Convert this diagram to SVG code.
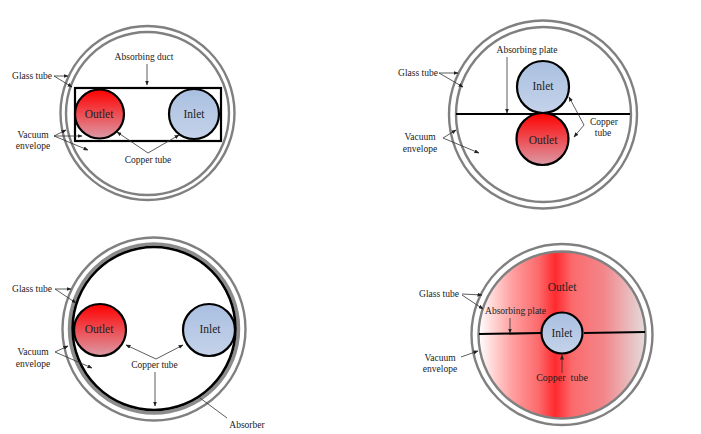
<svg xmlns="http://www.w3.org/2000/svg" width="701" height="434" viewBox="0 0 701 434">
  <style>
    text { font-family: "Liberation Serif", "Times New Roman", serif; font-size: 9.5px; fill: #222; text-anchor: middle; }
    text.tube { font-size: 11.5px; }
    text.wide { font-size: 10px; }
    .glass { fill: #fff; stroke: #808080; stroke-width: 2.4; }
    .wall { fill: none; stroke: #000; stroke-width: 2.2; }
    .hot { fill: url(#hot); stroke: #000; stroke-width: 2.2; }
    .cold { fill: url(#cold); stroke: #000; stroke-width: 2.2; }
    .lead { fill: none; stroke: #333; stroke-width: 0.8; }
    .arrow { fill: none; stroke: #333; stroke-width: 0.8; marker-end: url(#head); }
  </style>
  <defs>
    <linearGradient id="hot" x1="0" y1="0" x2="0" y2="1">
      <stop offset="0" stop-color="#ff0000"/>
      <stop offset="1" stop-color="#dc9aa6"/>
    </linearGradient>
    <linearGradient id="cold" x1="0" y1="0" x2="0" y2="1">
      <stop offset="0" stop-color="#a9bfe0"/>
      <stop offset="1" stop-color="#c5d3ea"/>
    </linearGradient>
    <linearGradient id="sweep" x1="0" y1="0" x2="1" y2="0">
      <stop offset="0" stop-color="#ffffff"/>
      <stop offset="0.2" stop-color="#ffa0a0"/>
      <stop offset="0.36" stop-color="#fc6a6c"/>
      <stop offset="0.46" stop-color="#ff2a2e"/>
      <stop offset="0.56" stop-color="#fc6a6c"/>
      <stop offset="0.75" stop-color="#f2868a"/>
      <stop offset="1" stop-color="#e4dcdc"/>
    </linearGradient>
    <marker id="head" markerUnits="userSpaceOnUse" markerWidth="5" markerHeight="4" refX="4.5" refY="2" orient="auto">
      <path d="M0 0L5 2L0 4Z" fill="#222"/>
    </marker>
  </defs>

  <!-- Rectangular absorbing duct -->
  <g id="duct-collector">
    <circle class="glass" cx="147.5" cy="113" r="87"/>
    <circle class="glass" cx="147.5" cy="113.5" r="81.5"/>
    <rect class="wall" x="75" y="88" width="146" height="53"/>
  </g>
  <g id="duct-outlet">
    <circle class="hot" cx="99.5" cy="114" r="24.5"/>
    <text class="tube" x="99" y="118">Outlet</text>
  </g>
  <g id="duct-inlet">
    <circle class="cold" cx="194" cy="114" r="25"/>
    <text class="tube" x="194" y="118">Inlet</text>
  </g>
  <g id="duct-labels">
    <text x="144" y="60">Absorbing duct</text>
    <text x="32" y="79">Glass tube</text>
    <text x="33" y="138">Vacuum</text>
    <text x="33" y="149">envelope</text>
    <text x="148" y="163">Copper tube</text>
  </g>

  <!-- Flat absorbing plate -->
  <g id="plate-collector">
    <circle class="glass" cx="543" cy="114.5" r="94"/>
    <circle class="glass" cx="543.5" cy="114.5" r="87.5"/>
    <path class="wall" d="M456 114H630"/>
  </g>
  <g id="plate-inlet">
    <circle class="cold" cx="543" cy="87" r="26"/>
    <text class="tube" x="543" y="90">Inlet</text>
  </g>
  <g id="plate-outlet">
    <circle class="hot" cx="542.5" cy="139" r="26"/>
    <text class="tube" x="543" y="144">Outlet</text>
  </g>
  <g id="plate-labels">
    <text x="527" y="53">Absorbing plate</text>
    <text x="418" y="76">Glass tube</text>
    <text x="420" y="140">Vacuum</text>
    <text x="420" y="152">envelope</text>
    <text x="604" y="125">Copper</text>
    <text x="603" y="136">tube</text>
  </g>

  <!-- Circular absorber -->
  <g id="ring-collector">
    <circle class="glass" cx="154" cy="329" r="91.5"/>
    <circle cx="154" cy="328.5" r="84.5" fill="none" stroke="#8c8c8c" stroke-width="3.5"/>
    <circle cx="154" cy="328.5" r="81.5" fill="#fff" stroke="#000" stroke-width="2.6"/>
  </g>
  <g id="ring-outlet">
    <circle class="hot" cx="100" cy="330" r="26"/>
    <text class="tube" x="99" y="333">Outlet</text>
  </g>
  <g id="ring-inlet">
    <circle class="cold" cx="209" cy="330" r="26"/>
    <text class="tube" x="210" y="333">Inlet</text>
  </g>
  <g id="ring-labels">
    <text x="32" y="292">Glass tube</text>
    <text x="33" y="355">Vacuum</text>
    <text x="33" y="367">envelope</text>
    <text x="154.5" y="368">Copper tube</text>
    <text x="247" y="428">Absorber</text>
  </g>

  <!-- Central inlet with plate -->
  <g id="annulus-collector">
    <circle class="glass" cx="562" cy="334.5" r="90.5"/>
    <circle cx="562" cy="335" r="83.5" fill="url(#sweep)" stroke="#808080" stroke-width="2.4"/>
    <path class="wall" d="M479 334L541 333M584 333L645 332"/>
  </g>
  <g id="annulus-inlet">
    <circle class="cold" cx="562" cy="333" r="20.5"/>
    <text class="tube" x="562" y="337">Inlet</text>
  </g>
  <g id="annulus-labels">
    <text class="tube" x="562" y="291">Outlet</text>
    <text x="439" y="297">Glass tube</text>
    <text x="515.5" y="314">Absorbing plate</text>
    <text x="440" y="361">Vacuum</text>
    <text x="440" y="372">envelope</text>
    <text class="wide" x="562" y="381" xml:space="preserve">Copper  tube</text>
  </g>

  <g id="connectors">
    <path class="arrow" d="M147 64V85"/>
    <path class="arrow" d="M54 76L68 76"/>
    <path class="arrow" d="M54 76L72 87"/>
    <path class="arrow" d="M54 136L66 130"/>
    <path class="arrow" d="M54 136L82 136"/>
    <path class="arrow" d="M54 136L88 150"/>
    <path class="arrow" d="M148 153L117 132"/>
    <path class="arrow" d="M148 153L179 135"/>

    <path class="arrow" d="M507 57V113"/>
    <path class="arrow" d="M439 73L458 73"/>
    <path class="arrow" d="M439 73L463 87"/>
    <path class="arrow" d="M443 138L456 130"/>
    <path class="arrow" d="M443 138L479 153"/>
    <path class="arrow" d="M584 125L569 97"/>
    <path class="arrow" d="M584 125L574 137"/>

    <path class="arrow" d="M55 289L71 289"/>
    <path class="arrow" d="M55 289L76 303"/>
    <path class="arrow" d="M55 352L68 346"/>
    <path class="arrow" d="M55 352L92 368"/>
    <path class="arrow" d="M156 359L126 345"/>
    <path class="arrow" d="M156 359L183 345"/>
    <path class="arrow" d="M155 372V406"/>
    <path class="lead" d="M227 418L200 398"/>

    <path class="arrow" d="M462 294L482 295"/>
    <path class="arrow" d="M462 295L483 309"/>
    <path class="arrow" d="M461 357L478 351"/>
    <path class="arrow" d="M510 318V333"/>
    <path class="arrow" d="M562 373V355"/>
  </g>
</svg>
